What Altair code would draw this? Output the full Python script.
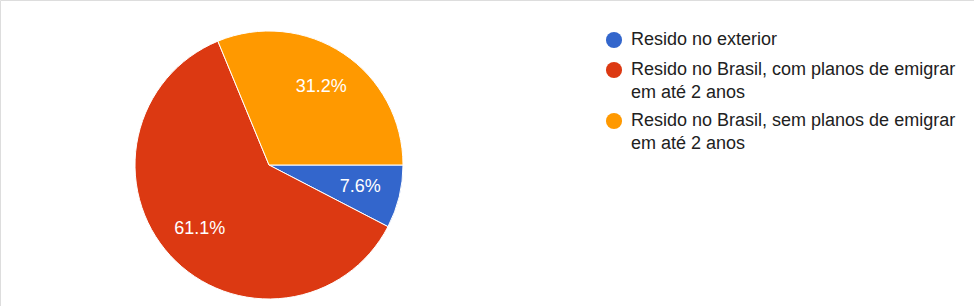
import math
import altair as alt
import pandas as pd

# ---- data ----
categories = [
    "Resido no exterior",
    "Resido no Brasil, com planos de emigrar em até 2 anos",
    "Resido no Brasil, sem planos de emigrar em até 2 anos",
]
legend_lines = [
    ["Resido no exterior"],
    ["Resido no Brasil, com planos de emigrar", "em até 2 anos"],
    ["Resido no Brasil, sem planos de emigrar", "em até 2 anos"],
]
percent = [7.6, 61.1, 31.2]
pct_labels = ["7.6%", "61.1%", "31.2%"]
colors = ["#3366cc", "#dc3912", "#ff9900"]

FONT = "Liberation Sans, Arial, sans-serif"

pie_df = pd.DataFrame({
    "category": categories,
    "value": percent,
    "label": pct_labels,
    "order": list(range(len(categories))),
})

# legend layout (computed)
CX, CY, R = 269, 165, 134
LEG_X_SYM, LEG_X_TXT = 614, 631
LEG_Y0, ROW_GAP, LINE_H = 40, 30, 22.5

sym_rows, txt_rows = [], []
y = LEG_Y0
for cat, lines in zip(categories, legend_lines):
    sym_rows.append({"category": cat, "y": y})
    for j, line in enumerate(lines):
        txt_rows.append({"text": line, "y": y + j * LINE_H})
    y += ROW_GAP + (len(lines) - 1) * (LINE_H - 1.5)
sym_df = pd.DataFrame(sym_rows)
txt_df = pd.DataFrame(txt_rows)

color_scale = alt.Scale(domain=categories, range=colors)
theta_enc = alt.Theta("value:Q", stack=True,
                      scale=alt.Scale(range=[math.pi / 2, math.pi / 2 + 2 * math.pi]))

arc = alt.Chart(pie_df).mark_arc(radius=R, stroke="white", strokeWidth=1).encode(
    theta=theta_enc,
    order=alt.Order("order:Q"),
    color=alt.Color("category:N", scale=color_scale, legend=None),
    x=alt.value(CX),
    y=alt.value(CY),
)

pct_text = alt.Chart(pie_df).mark_text(
    radius=94, fontSize=18, font=FONT, color="white"
).encode(
    theta=theta_enc,
    order=alt.Order("order:Q"),
    detail="category:N",
    text="label:N",
    x=alt.value(CX),
    y=alt.value(CY),
)

leg_sym = alt.Chart(sym_df).mark_point(filled=True, shape="circle", size=260, opacity=1).encode(
    x=alt.value(LEG_X_SYM),
    y=alt.Y("y:Q", scale=None, axis=None),
    color=alt.Color("category:N", scale=color_scale, legend=None),
)

leg_txt = alt.Chart(txt_df).mark_text(
    align="left", baseline="middle", fontSize=18, font=FONT, color="#212121"
).encode(
    x=alt.value(LEG_X_TXT),
    y=alt.Y("y:Q", scale=None, axis=None),
    text="text:N",
)

chart = alt.layer(arc, pct_text, leg_sym, leg_txt).properties(
    width=974, height=306, padding=0, autosize="none"
).configure_view(stroke=None).configure(background="white")

chart.save("out.html", embed_options={"renderer": "svg", "actions": False})
